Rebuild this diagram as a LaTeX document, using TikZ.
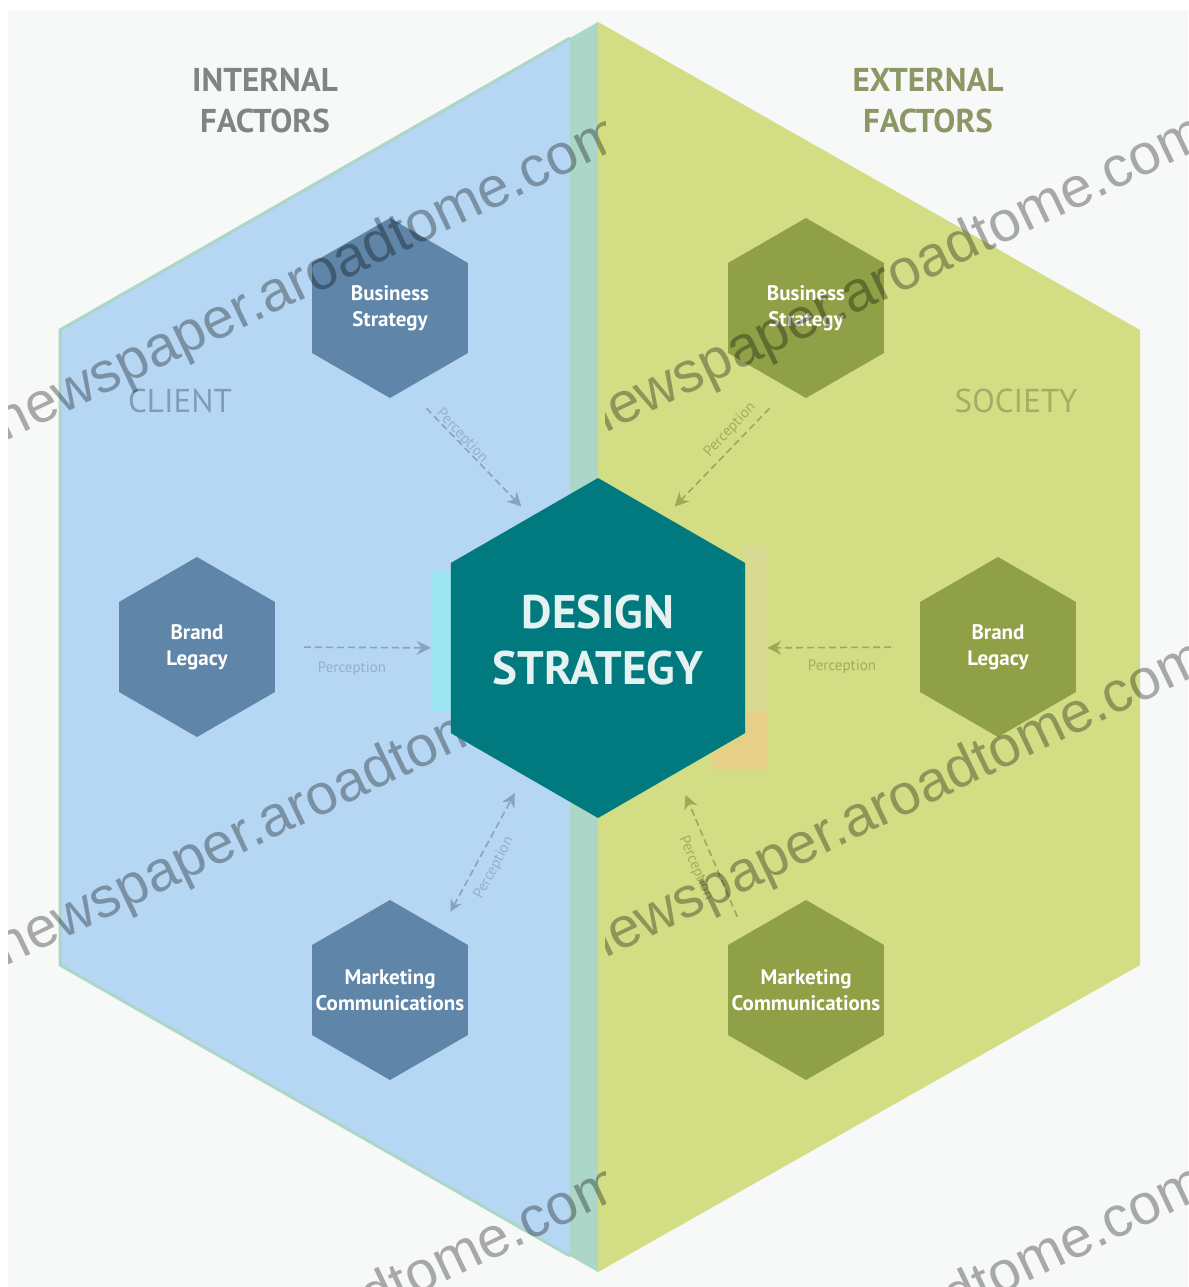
\documentclass[tikz,border=0pt]{standalone}
\usepackage{fontspec}
\setmainfont{PT Sans}
\newfontfamily\wmfont{Liberation Sans}
\usetikzlibrary{shapes.geometric,arrows.meta}
\definecolor{bluezone}{HTML}{B5D7F3}
\definecolor{greenzone}{HTML}{D2DD84}
\definecolor{stripzone}{HTML}{ABD6C8}
\definecolor{bluehex}{HTML}{5F86A8}
\definecolor{greenhex}{HTML}{8FA046}
\definecolor{corehex}{HTML}{007A7E}
\definecolor{pagebg}{HTML}{F7F8F8}
\definecolor{headblue}{HTML}{808485}
\definecolor{headgreen}{HTML}{8D9766}
\definecolor{zoneblue}{HTML}{7D9DB8}
\definecolor{zonegreen}{HTML}{A3AD66}
\definecolor{halocyan}{HTML}{9BE4F0}
\definecolor{halotan}{HTML}{D8DA92}
\definecolor{haloorange}{HTML}{E6D088}
\tikzset{
  hexbase/.style={regular polygon,regular polygon sides=6,shape border rotate=30,inner sep=0pt,outer sep=0pt,align=center,text=white},
  smallblue/.style={hexbase,minimum size=180pt,fill=bluehex,font=\fontsize{21}{26}\selectfont\bfseries},
  smallgreen/.style={hexbase,minimum size=180pt,fill=greenhex,font=\fontsize{21}{26}\selectfont\bfseries},
  corestyle/.style={hexbase,minimum size=340pt,fill=corehex},
  corelabel/.style={align=center,inner sep=0pt,text=white!90!corehex,font=\fontsize{47}{56}\selectfont\bfseries},
  head/.style={align=center,font=\fontsize{33}{41}\selectfont\bfseries},
  zonelabel/.style={font=\fontsize{33}{34}\selectfont},
  linkblue/.style={draw=bluehex!75,line width=1.6pt,dash pattern=on 7pt off 4pt,-{Stealth[length=14pt,width=14pt]}},
  linkgreen/.style={draw=greenhex!90,line width=1.6pt,dash pattern=on 7pt off 4pt,-{Stealth[length=14pt,width=14pt]}},
  tinyblue/.style={text=bluehex!65,font=\fontsize{15}{15}\selectfont,inner sep=0pt},
  tinygreen/.style={text=greenhex!85,font=\fontsize{15}{15}\selectfont,inner sep=0pt},
  wm/.style={font=\wmfont\fontsize{57}{57}\selectfont,text=black,text opacity=.32,rotate=25.5,inner sep=0pt,anchor=east}
}
\begin{document}
\begin{tikzpicture}[x=1pt,y=-1pt]
\useasboundingbox (0,0) rectangle (1188,1287);
\fill[white] (0,0) rectangle (1188,1287);
\fill[pagebg] (8,10) rectangle (1188,1287);
% large hexagon, three zones
\fill[bluezone] (570,38) -- (60,330) -- (60,965) -- (570,1256) -- cycle;
\fill[stripzone] (570,38) -- (598,22) -- (598,1272) -- (570,1256) -- cycle;
\fill[greenzone] (598,22) -- (1140,330) -- (1140,965) -- (598,1272) -- cycle;
\draw[stripzone,line width=3pt] (570,38) -- (60,330) -- (60,965) -- (570,1256);
% lower left watermark runs beneath the core
\begin{scope}
  \clip (8,440) rectangle (605,1000);
  \node[wm] (wmC) at (620,657) {newspaper.aroadtome.com};
\end{scope}
% glow round the core
\fill[halocyan] (432,572) rectangle (452,712);
\fill[halotan] (744,545) rectangle (768,712);
\fill[haloorange] (712,712) rectangle (768,770);
% hexagons
\node[corestyle] (core) at (598,648) {};
\node[corelabel] (coreText) at (598,640) {DESIGN\\STRATEGY};
\node[smallblue] (bizL) at (390,308) {Business\\Strategy};
\node[smallblue] (brandL) at (197,647) {Brand\\Legacy};
\node[smallblue] (mkL) at (390,990) {Marketing\\\makebox[0pt]{Communications}};
\node[smallgreen] (bizR) at (806,308) {Business\\Strategy};
\node[smallgreen] (brandR) at (998,647) {Brand\\Legacy};
\node[smallgreen] (mkR) at (806,990) {Marketing\\\makebox[0pt]{Communications}};
% connectors
\draw[linkblue,shorten <=28pt,shorten >=14pt] (bizL.-78) -- (core.117);
\draw[linkblue,shorten <=29pt,shorten >=20pt] (brandL.east) -- (core.west);
\draw[linkblue,{Stealth[length=12pt,width=12pt]}-{Stealth[length=14pt,width=14pt]},shorten <=20pt,shorten >=20pt] (mkL.50) -- (core.240);
\draw[linkgreen,shorten <=28pt,shorten >=14pt] (bizR.-102) -- (core.63);
\draw[linkgreen,shorten <=29pt,shorten >=22pt] (brandR.west) -- (core.east);
\draw[linkgreen,shorten <=20pt,shorten >=24pt] (mkR.138) -- (core.-58);
% connector captions
\node[tinyblue,rotate=-47] (capA) at (462,436) {Perception};
\node[tinyblue] (capB) at (352,669) {Perception};
\node[tinyblue,rotate=62] (capC) at (494,868) {Perception};
\node[tinygreen,rotate=47] (capD) at (730,430) {Perception};
\node[tinygreen] (capE) at (842,667) {Perception};
\node[tinygreen,rotate=-67] (capF) at (696,868) {Perception};
% headings
\node[head,text=headblue] (intl) at (265,101) {INTERNAL\\FACTORS};
\node[head,text=headgreen] (extl) at (928,101) {EXTERNAL\\FACTORS};
\node[zonelabel,text=zoneblue] (client) at (180,401) {CLIENT};
\node[zonelabel,text=zonegreen] (society) at (1016,401) {SOCIETY};
% watermark tiles
\foreach \xa/\xb/\yb/\ya/\yc in {8/605/132/0/560, 605/1188/132/0/560, 605/1188/657/440/1000, 8/605/1182/1000/1287, 605/1188/1182/1000/1287}{
  \begin{scope}
    \clip (\xa,\ya) rectangle (\xb,\yc);
    \node[wm] at (\xb+15,\yb) {newspaper.aroadtome.com};
  \end{scope}
}
\end{tikzpicture}
\end{document}
